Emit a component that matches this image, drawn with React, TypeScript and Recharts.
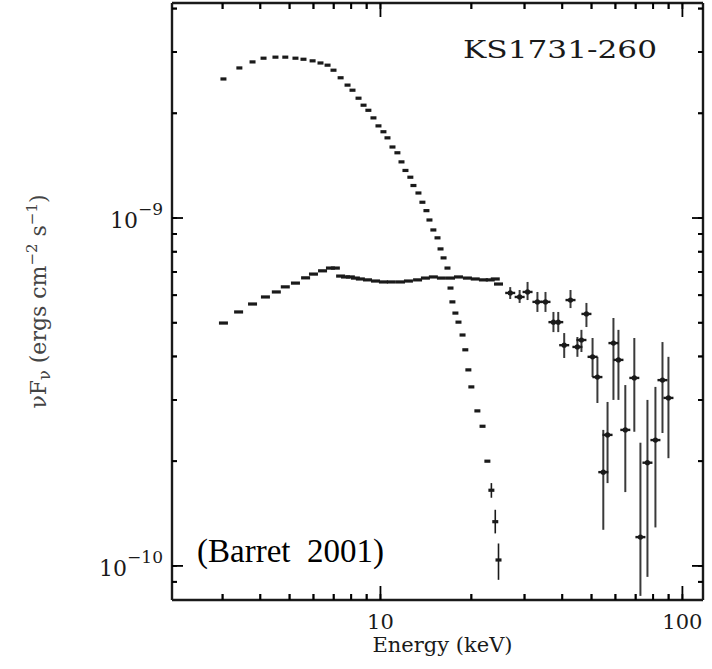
import React from "react";
import { ScatterChart, Scatter, XAxis, YAxis, ErrorBar } from "recharts";

// flux values below are in units of 1e-9 ergs cm^-2 s^-1
const UNIT = 1e-9;

// soft (blackbody-like) component, keV
const upperEnergy = [
  3.02, 3.41, 3.77, 4.1, 4.49, 4.84, 5.23, 5.56, 5.96, 6.33, 6.68, 6.99, 7.38,
  7.78, 8.08, 8.46, 8.79, 9.12, 9.48, 9.85, 10.23, 10.55, 10.96, 11.38, 11.74,
  12.1, 12.56, 12.86, 13.36, 13.77, 14.2, 14.53, 14.97, 15.45, 15.81, 16.18,
  16.67, 17.06, 17.31, 17.71, 18.13, 18.7, 19.1, 19.55, 20.0, 20.94, 21.78,
  22.6, 23.3, 24.0, 24.6,
];
const upperFlux = [
  2.51, 2.7, 2.81, 2.88, 2.9, 2.9, 2.88, 2.86, 2.83, 2.79, 2.75, 2.66, 2.53,
  2.41, 2.33, 2.21, 2.11, 2.04, 1.94, 1.84, 1.77, 1.7, 1.6, 1.54, 1.45, 1.37,
  1.31, 1.24, 1.18, 1.11, 1.05, 0.987, 0.924, 0.877, 0.815, 0.768, 0.718, 0.629,
  0.574, 0.533, 0.502, 0.461, 0.418, 0.366, 0.327, 0.279, 0.252, 0.2, 0.165,
  0.134, 0.104,
];
// error ranges of the last three soft points
const upperTailLow = [0.157, 0.124, 0.0912];
const upperTailHigh = [0.173, 0.145, 0.116];

// hard (PCA) component
const lowerEnergy = [
  3.02, 3.39, 3.77, 4.16, 4.52, 4.84, 5.23, 5.65, 6.0, 6.43, 6.83, 7.09, 7.38,
  7.66, 7.95, 8.26, 8.58, 9.06, 9.63, 10.23, 10.87, 11.65, 12.38, 13.27, 14.09,
  14.97, 15.92, 17.06, 18.13, 19.41, 20.6, 21.93, 23.1, 24.0, 24.6,
];
const lowerFlux = [
  0.499, 0.537, 0.566, 0.593, 0.613, 0.634, 0.65, 0.673, 0.69, 0.705, 0.718,
  0.718, 0.681, 0.677, 0.677, 0.672, 0.668, 0.664, 0.659, 0.655, 0.655, 0.655,
  0.659, 0.664, 0.672, 0.677, 0.672, 0.672, 0.677, 0.672, 0.668, 0.664, 0.664,
  0.668, 0.646,
];

// HEXTE points with error bars
const hexteEnergy = [
  26.9, 28.9, 30.7, 33.1, 35.2, 37.4, 38.8, 40.6, 42.6, 44.9, 46.3, 48.1, 50.4,
  52.3, 54.7, 56.5, 59.1, 61.4, 64.7, 69.3, 72.6, 76.6, 81.4, 85.9, 89.9,
];
const hexteFlux = [
  0.609, 0.593, 0.613, 0.574, 0.574, 0.502, 0.502, 0.431, 0.581, 0.426, 0.446,
  0.53, 0.399, 0.349, 0.186, 0.238, 0.437, 0.391, 0.246, 0.347, 0.121, 0.198,
  0.23, 0.342, 0.304,
];
const hexteLow = [
  0.585, 0.57, 0.581, 0.537, 0.537, 0.47, 0.47, 0.396, 0.551, 0.399, 0.412,
  0.486, 0.349, 0.294, 0.127, 0.173, 0.3, 0.3, 0.163, 0.243, 0.082, 0.093,
  0.129, 0.241, 0.204,
];
const hexteHigh = [
  0.633, 0.621, 0.655, 0.613, 0.613, 0.537, 0.537, 0.467, 0.621, 0.455, 0.477,
  0.57, 0.452, 0.399, 0.246, 0.296, 0.516, 0.477, 0.331, 0.452, 0.226, 0.3,
  0.327, 0.44, 0.399,
];

const xTicks = [3, 4, 5, 6, 7, 8, 9, 10, 20, 30, 40, 50, 60, 70, 80, 90, 100];
const yTicks = [0.09, 0.1, 0.2, 0.3, 0.4, 0.5, 0.6, 0.7, 0.8, 0.9, 1, 2, 3, 4];
const xDomain = [2.04, 117];
const yDomain = [0.0798, 4.15];

const FONT = "DejaVu Serif";
const INK = "#1a1a1a";
const X_MINOR = 6; // inward tick lengths drawn by recharts itself
const Y_MINOR = 5;

const upperData = upperEnergy.map((e, i) => ({ e, f: upperFlux[i] * UNIT }));
const tailStart = upperEnergy.length - upperTailLow.length;
const upperTail = upperData.slice(tailStart).map((d, i) => ({
  ...d,
  err: [d.f - upperTailLow[i] * UNIT, upperTailHigh[i] * UNIT - d.f],
}));
const lowerData = lowerEnergy.map((e, i) => ({ e, f: lowerFlux[i] * UNIT }));
const hexteData = hexteEnergy.map((e, i) => ({
  e,
  f: hexteFlux[i] * UNIT,
  err: [(hexteFlux[i] - hexteLow[i]) * UNIT, (hexteHigh[i] - hexteFlux[i]) * UNIT],
}));

const isMajor = (v: number) => {
  const l = Math.log10(v);
  return Math.abs(l - Math.round(l)) < 1e-6;
};

// recharts draws the short inward tick; decades get a longer one plus a label
const BottomTick = (props: any) => {
  const x = Number(props.x);
  const axisY = Number(props.y) + X_MINOR;
  const major = isMajor(props.payload.value);
  return (
    <g>
      <path d={`M${x},${axisY}V${axisY - (major ? 14 : X_MINOR)}`} stroke="#000" strokeWidth={1.8} fill="none" />
      <text x={x} y={axisY + 29} textAnchor="middle" fontSize={21} fontFamily={FONT} fill={INK}>
        {major ? Math.round(props.payload.value) : ""}
      </text>
    </g>
  );
};

const TopTick = (props: any) => {
  const x = Number(props.x);
  const axisY = Number(props.y) - X_MINOR;
  const major = isMajor(props.payload.value);
  return <path d={`M${x},${axisY}V${axisY + (major ? 14 : X_MINOR)}`} stroke="#000" strokeWidth={1.8} fill="none" />;
};

const LeftTick = (props: any) => {
  const axisX = Number(props.x) - Y_MINOR;
  const y = Number(props.y);
  const value = props.payload.value;
  const major = isMajor(value / UNIT);
  const exp = Math.round(Math.log10(value));
  return (
    <g>
      <path d={`M${axisX},${y}H${axisX + (major ? 11 : Y_MINOR)}`} stroke="#000" strokeWidth={1.8} fill="none" />
      {major && (
        <text x={axisX - 9} y={y + 10} textAnchor="end" fontFamily={FONT} fill={INK}>
          <tspan fontSize={22}>10</tspan>
          <tspan fontSize={17} dy={-13}>{"\u2212" + Math.abs(exp)}</tspan>
        </text>
      )}
    </g>
  );
};

const RightTick = (props: any) => {
  const axisX = Number(props.x) + Y_MINOR;
  const y = Number(props.y);
  const major = isMajor(props.payload.value / UNIT);
  return <path d={`M${axisX},${y}H${axisX - (major ? 11 : Y_MINOR)}`} stroke="#000" strokeWidth={1.8} fill="none" />;
};

// axis titles and free text, placed relative to each axis' viewBox
const EnergyLabel = (props: any) => {
  const vb = props.viewBox || {};
  return (
    <text x={vb.x + vb.width / 2 + 5} y={vb.y + 52} textAnchor="middle" fontSize={21} fontFamily={FONT} fill={INK}>
      Energy (keV)
    </text>
  );
};

const FluxLabel = (props: any) => {
  const vb = props.viewBox || {};
  return (
    <text
      transform={`translate(${vb.x + 46},${vb.y + vb.height / 2}) rotate(-90)`}
      textAnchor="middle"
      fontSize={22}
      fontFamily={FONT}
      fill="#444"
    >
      <tspan>νF</tspan>
      <tspan fontSize={16} dy={4}>ν</tspan>
      <tspan dy={-4}> (ergs cm</tspan>
      <tspan fontSize={15} dy={-9}>−2</tspan>
      <tspan dy={9}> s</tspan>
      <tspan fontSize={15} dy={-9}>−1</tspan>
      <tspan dy={9}>)</tspan>
    </text>
  );
};

const PanelText = (props: any) => {
  const vb = props.viewBox || {};
  return (
    <g>
      <text x={vb.x + 291} y={vb.y + 56} fontSize={25} fontFamily={FONT} fill={INK} textLength={194} lengthAdjust="spacingAndGlyphs">
        KS1731-260
      </text>
      <text x={vb.x + 25} y={vb.y + 560} fontSize={33} fontFamily="Liberation Serif" fill="#000">
        (Barret{"\u00a0 "}2001)
      </text>
    </g>
  );
};

const UpperDash = (props: any) => {
  const { cx, cy } = props;
  if (cx == null || cy == null) return <g />;
  return <rect x={cx - 3} y={cy - 1.6} width={6} height={3.2} fill={INK} />;
};

const LowerDash = (props: any) => {
  const { cx, cy } = props;
  if (cx == null || cy == null) return <g />;
  return <rect x={cx - 4.5} y={cy - 1.6} width={9} height={3.2} fill={INK} />;
};

const Cross = (props: any) => {
  const { cx, cy } = props;
  if (cx == null || cy == null) return <g />;
  return (
    <g>
      <rect x={cx - 5} y={cy - 1.2} width={10} height={2.4} fill={INK} />
      <circle cx={cx} cy={cy} r={2.6} fill={INK} />
    </g>
  );
};

const Empty = () => <g />;

const axisLine = { stroke: INK, strokeWidth: 2.4 };
const tickLine = { stroke: "#000", strokeWidth: 1.8 };
const yDomainScaled = yDomain.map((v) => v * UNIT);
const yTicksScaled = yTicks.map((v) => v * UNIT);

export default function App() {
  return (
    <div style={{ position: "absolute", left: 0, top: 0, width: 712, height: 669, background: "#fff" }}>
      <ScatterChart width={712} height={669} margin={{ top: 2, right: 8, bottom: 0, left: 0 }}>
        <XAxis
          xAxisId="b"
          dataKey="e"
          type="number"
          scale="log"
          domain={xDomain}
          allowDataOverflow
          ticks={xTicks}
          interval={0}
          tick={BottomTick}
          tickLine={tickLine}
          tickSize={-X_MINOR}
          tickMargin={0}
          height={69}
          axisLine={axisLine}
          label={EnergyLabel}
        />
        <XAxis
          xAxisId="t"
          orientation="top"
          dataKey="e"
          type="number"
          scale="log"
          domain={xDomain}
          allowDataOverflow
          ticks={xTicks}
          interval={0}
          tick={TopTick}
          tickLine={tickLine}
          tickSize={-X_MINOR}
          tickMargin={0}
          height={1}
          axisLine={axisLine}
          label={PanelText}
        />
        <YAxis
          yAxisId="l"
          dataKey="f"
          type="number"
          scale="log"
          domain={yDomainScaled}
          allowDataOverflow
          ticks={yTicksScaled}
          interval={0}
          tick={LeftTick}
          tickLine={tickLine}
          tickSize={-Y_MINOR}
          tickMargin={0}
          width={172}
          axisLine={axisLine}
          label={FluxLabel}
        />
        <YAxis
          yAxisId="r"
          orientation="right"
          dataKey="f"
          type="number"
          scale="log"
          domain={yDomainScaled}
          allowDataOverflow
          ticks={yTicksScaled}
          interval={0}
          tick={RightTick}
          tickLine={tickLine}
          tickSize={-Y_MINOR}
          tickMargin={0}
          width={1}
          axisLine={axisLine}
        />
        <Scatter xAxisId="t" yAxisId="r" data={upperData} shape={Empty} isAnimationActive={false} />
        <Scatter xAxisId="b" yAxisId="l" data={upperData} shape={UpperDash} isAnimationActive={false} />
        <Scatter xAxisId="b" yAxisId="l" data={upperTail} shape={Empty} isAnimationActive={false}>
          <ErrorBar dataKey="err" direction="y" width={0} stroke={INK} strokeWidth={1.6} />
        </Scatter>
        <Scatter xAxisId="b" yAxisId="l" data={lowerData} shape={LowerDash} isAnimationActive={false} />
        <Scatter xAxisId="b" yAxisId="l" data={hexteData} shape={Cross} isAnimationActive={false}>
          <ErrorBar dataKey="err" direction="y" width={0} stroke="#3a3a3a" strokeWidth={2} />
        </Scatter>
      </ScatterChart>
    </div>
  );
}
